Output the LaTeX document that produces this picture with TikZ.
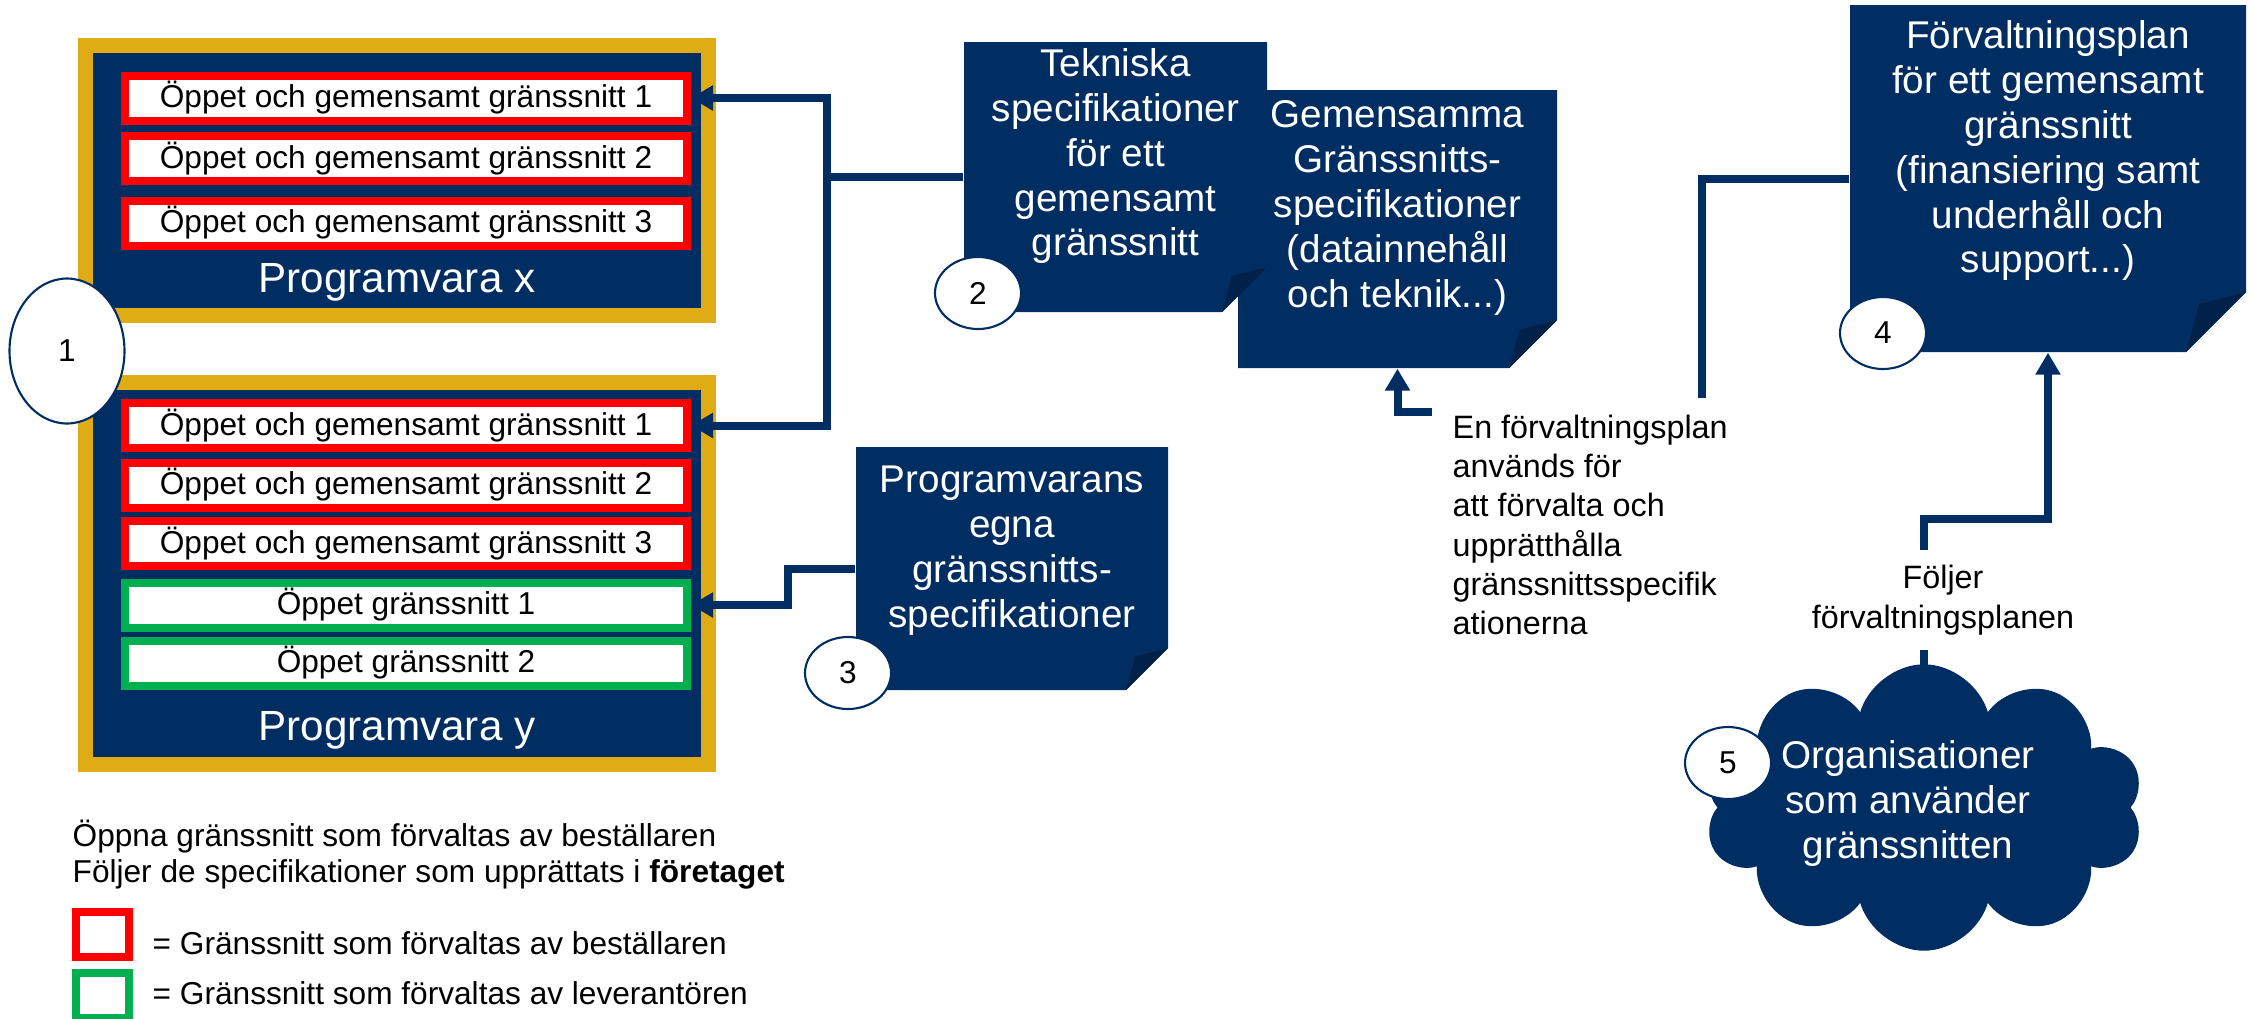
\documentclass[tikz,border=0pt]{standalone}
\usepackage{fontspec}
\setmainfont{Liberation Sans}
\usetikzlibrary{arrows.meta, shapes.geometric, shapes.symbols}

\definecolor{navy}{RGB}{0,46,98}
\definecolor{navydark}{RGB}{0,33,74}
\definecolor{guld}{RGB}{223,172,22}
\definecolor{gron}{RGB}{0,176,80}

\newcommand{\radfont}{\fontsize{9}{10.8}\selectfont}
\newcommand{\dokfont}{\fontsize{11}{12.8}\selectfont}
\newcommand{\progfont}{\fontsize{12}{14}\selectfont}
\newcommand{\notfont}{\fontsize{9.2}{11.2}\selectfont}
\newcommand{\legfont}{\fontsize{9}{10.2}\selectfont}

\begin{document}
\begin{tikzpicture}
			\tikzstyle{prog}  = [rectangle, draw=guld, line width=0.15cm, fill=navy, inner sep=0pt]
			\tikzstyle{rad}   = [rectangle, line width=0.08cm, fill=white, minimum width=5.62cm, minimum height=0.45cm, inner sep=0pt, font=\radfont]
			\tikzstyle{num}   = [ellipse, draw=navy, line width=0.6pt, fill=white, minimum width=0.86cm, minimum height=0.72cm, inner sep=0pt, font=\radfont]
			\tikzstyle{lank}  = [draw=navy, line width=0.08cm]
			\tikzstyle{pil}   = [lank, -{Triangle[length=0.22cm, width=0.24cm]}]
			\tikzstyle{notis} = [inner sep=0pt, font=\notfont, align=left]
			\tikzset{dok/.style={rectangle, inner sep=0pt, text=white, align=center, font=\dokfont,
				path picture={
					\fill[navy] (path picture bounding box.north west) -- (path picture bounding box.north east)
						-- ([yshift=#1]path picture bounding box.south east) -- ([xshift=-#1]path picture bounding box.south east)
						-- (path picture bounding box.south west) -- cycle;
					\fill[navydark] ([yshift=#1]path picture bounding box.south east)
						-- ([xshift=-0.78*#1, yshift=0.8*#1]path picture bounding box.south east)
						-- ([xshift=-#1]path picture bounding box.south east) -- cycle;
				}}}

			\useasboundingbox (0,0) rectangle (22.54,-10.18);
%			\draw[step=1cm, gray!50] (0,0) grid (22.54,-10.18);

			% programvaror
			\node[prog, minimum width=6.23cm, minimum height=2.70cm] (px) at (3.97,-1.805) {};
			\node[prog, minimum width=6.23cm, minimum height=3.82cm] (py) at (3.97,-5.735) {};
			\node[text=white, font=\progfont] (pxnamn) at (3.97,-2.82) {Programvara x};
			\node[text=white, font=\progfont] (pynamn) at (3.97,-7.30) {Programvara y};

			\foreach \namn/\y/\farg/\txt in {x1/0.98/red/Öppet och gemensamt gränssnitt 1, x2/1.585/red/Öppet och gemensamt gränssnitt 2, x3/2.23/red/Öppet och gemensamt gränssnitt 3, y1/4.255/red/Öppet och gemensamt gränssnitt 1, y2/4.85/red/Öppet och gemensamt gränssnitt 2, y3/5.435/red/Öppet och gemensamt gränssnitt 3, y4/6.05/gron/Öppet gränssnitt 1, y5/6.63/gron/Öppet gränssnitt 2}
				\node[rad, draw=\farg] (\namn) at (4.06,-\y) {\txt};

			% dokument
			\node[dok=0.48cm, minimum width=3.19cm, minimum height=2.78cm, text depth=0.5cm] (gem) at (13.975,-2.29) {Gemensamma\\Gränssnitts-\\specifikationer\\(datainnehåll\\och teknik...)};
			\node[dok=0.45cm, minimum width=3.03cm, minimum height=2.70cm, text depth=0.5cm] (tek) at (11.155,-1.77) {Tekniska\\specifikationer\\för ett\\gemensamt\\gränssnitt};
			\node[dok=0.42cm, minimum width=3.12cm, minimum height=2.43cm, text depth=0.44cm] (egen) at (10.12,-5.685) {Programvarans\\egna\\gränssnitts-\\specifikationer};
			\node[dok=0.6cm, minimum width=3.96cm, minimum height=3.47cm, text depth=0.64cm] (plan) at (20.48,-1.785) {Förvaltningsplan\\för ett gemensamt\\gränssnitt\\(finansiering samt\\underhåll och\\support...)};

			\node[cloud, cloud puffs=10, fill=navy, draw=navy, minimum width=4.38cm, minimum height=2.85cm, inner sep=0pt] (moln) at (19.24,-8.075) {};
			\node[text=white, align=center, font=\dokfont, inner sep=0pt] (molntxt) at (19.08,-8.03) {Organisationer\\som använder\\gränssnitten};

			\node[notis, anchor=north west] (en) at (14.52,-4.14) {En förvaltningsplan\\används för\\att förvalta och\\upprätthålla\\gränssnittsspecifik\\ationerna};
			\node[notis, align=center, inner sep=0.15cm] (fj) at (19.43,-6.00) {Följer\\förvaltningsplanen};

			% kopplingar
			\coordinate (tekknut) at (8.27,-1.77);
			\coordinate (enpil) at (14.32,-4.12);
			\coordinate (enlinje) at (17.02,-3.98);
			\draw[pil] (tek.west) -- (tekknut) |- (x1.east);
			\draw[pil] (tekknut) |- (y1.east);
			\draw[pil] (egen.west) -- ++(-0.67,0) |- (y4.east);
			\draw[pil] (enpil) -| (gem.south);
			\draw[lank] (plan.west) -| (enlinje);
			\draw[lank] ([yshift=-0.15cm]moln.north) -- (fj.south -| moln.north);
			\draw[pil] (fj.north -| moln.north) -- ++(0,0.31) -| (plan.south);

			% nummer
			\node[num, minimum width=1.15cm, minimum height=1.45cm] (n1) at (0.67,-3.51) {1};
			\foreach \namn/\x/\y/\txt in {n2/9.78/2.93/2, n3/8.48/6.73/3, n4/18.83/3.33/4, n5/17.28/7.63/5}
				\node[num] (\namn) at (\x,-\y) {\txt};

			% teckenförklaring
			\node[notis, anchor=west, font=\legfont] (forkl) at (0.72,-8.55) {Öppna gränssnitt som förvaltas av beställaren\\Följer de specifikationer som upprättats i \textbf{företaget}};
			\node[rad, draw=red, minimum width=0.53cm, minimum height=0.45cm] (rodruta) at (1.025,-9.345) {};
			\node[rad, draw=gron, minimum width=0.53cm, minimum height=0.45cm] (gronruta) at (1.025,-9.955) {};
			\node[notis, anchor=west, font=\legfont] (rodtxt) at (1.52,-9.43) {= Gränssnitt som förvaltas av beställaren};
			\node[notis, anchor=west, font=\legfont] (grontxt) at (1.52,-9.93) {= Gränssnitt som förvaltas av leverantören};
\end{tikzpicture}
\end{document}
